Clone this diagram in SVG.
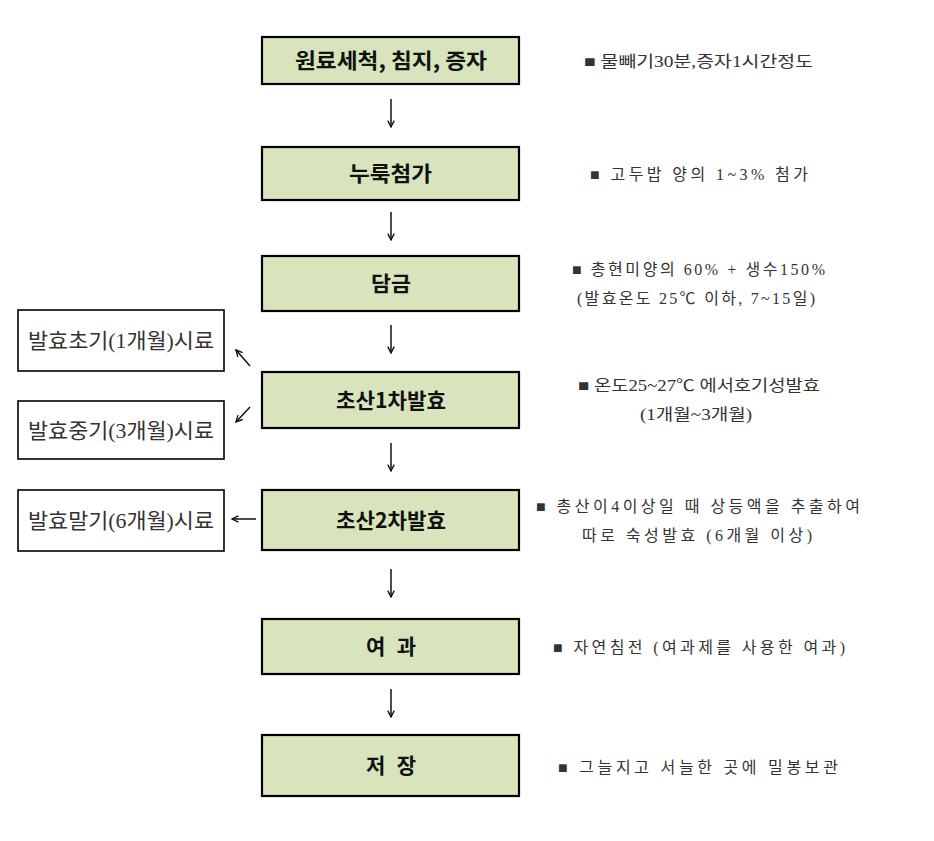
<svg xmlns="http://www.w3.org/2000/svg" width="934" height="841" viewBox="0 0 934 841">
<style>
.main{fill:#d8e4bc;stroke:#000;stroke-width:2.2}
.side{fill:#fff;stroke:#000;stroke-width:1.6}
.mt{font-family:"Noto Sans CJK KR","Liberation Sans",sans-serif;font-weight:bold;font-size:21px;fill:#111}
.st{font-family:"Liberation Serif","Noto Sans CJK KR",serif;font-size:21px;fill:#333}
.nt{font-family:"Liberation Serif","Noto Sans CJK KR",serif;font-size:16px;fill:#333}
.c{stroke:#111;stroke-width:1.5;fill:none}
</style>
<defs>
<marker id="ah" viewBox="0 0 10 10" refX="9" refY="5" markerWidth="8" markerHeight="8" orient="auto" markerUnits="userSpaceOnUse">
<path d="M1,1 L9,5 L1,9" fill="none" stroke="#111" stroke-width="1.7"/>
</marker>
</defs>
<rect width="934" height="841" fill="#fff"/>
<g id="n1"><rect class="main" x="262" y="37" width="257" height="47"/><text class="mt" x="295" y="68" textLength="192" lengthAdjust="spacingAndGlyphs">원료세척, 침지, 증자</text></g>
<g id="n2"><rect class="main" x="262" y="147" width="257" height="53"/><text class="mt" x="349" y="181" textLength="83" lengthAdjust="spacingAndGlyphs">누룩첨가</text></g>
<g id="n3"><rect class="main" x="262" y="256" width="257" height="55"/><text class="mt" x="371" y="291" textLength="40" lengthAdjust="spacingAndGlyphs">담금</text></g>
<g id="n4"><rect class="main" x="262" y="372" width="257" height="56"/><text class="mt" x="336" y="408" textLength="110" lengthAdjust="spacingAndGlyphs">초산1차발효</text></g>
<g id="n5"><rect class="main" x="262" y="490" width="257" height="60"/><text class="mt" x="336" y="528" textLength="110" lengthAdjust="spacingAndGlyphs">초산2차발효</text></g>
<g id="n6"><rect class="main" x="262" y="619" width="257" height="55"/><text class="mt" x="366" y="654" textLength="50" lengthAdjust="spacing">여 과</text></g>
<g id="n7"><rect class="main" x="262" y="735" width="257" height="61"/><text class="mt" x="366" y="773" textLength="50" lengthAdjust="spacing">저 장</text></g>
<g id="s1"><rect class="side" x="18" y="310" width="206" height="61"/><text class="st" x="28" y="348" textLength="186" lengthAdjust="spacingAndGlyphs">발효초기(1개월)시료</text></g>
<g id="s2"><rect class="side" x="18" y="401" width="206" height="58"/><text class="st" x="28" y="438" textLength="186" lengthAdjust="spacingAndGlyphs">발효중기(3개월)시료</text></g>
<g id="s3"><rect class="side" x="18" y="490" width="206" height="61"/><text class="st" x="28" y="528" textLength="186" lengthAdjust="spacingAndGlyphs">발효말기(6개월)시료</text></g>
<g id="notes">
<text class="nt" x="584" y="67" textLength="229" lengthAdjust="spacingAndGlyphs">■ 물빼기30분,증자1시간정도</text>
<text class="nt" x="590" y="180" textLength="218" lengthAdjust="spacing">■  고두밥 양의 1~3% 첨가</text>
<text class="nt" x="572" y="275" textLength="253" lengthAdjust="spacing">■ 총현미양의 60% + 생수150%</text>
<text class="nt" x="577" y="304" textLength="238" lengthAdjust="spacing">(발효온도 25℃ 이하, 7~15일)</text>
<text class="nt" x="578" y="391" textLength="242" lengthAdjust="spacingAndGlyphs">■ 온도25~27℃ 에서호기성발효</text>
<text class="nt" x="640" y="420" textLength="112" lengthAdjust="spacingAndGlyphs">(1개월~3개월)</text>
<text class="nt" x="536" y="512" textLength="324" lengthAdjust="spacing">■ 총산이4이상일 때 상등액을 추출하여</text>
<text class="nt" x="582" y="541" textLength="230" lengthAdjust="spacing">따로 숙성발효 (6개월 이상)</text>
<text class="nt" x="553" y="653" textLength="292" lengthAdjust="spacing">■ 자연침전 (여과제를 사용한 여과)</text>
<text class="nt" x="558" y="773" textLength="280" lengthAdjust="spacing">■ 그늘지고 서늘한 곳에 밀봉보관</text>
</g>
<g id="connectors">
<line class="c" x1="391" y1="99" x2="391" y2="127" marker-end="url(#ah)"/>
<line class="c" x1="391" y1="212" x2="391" y2="240" marker-end="url(#ah)"/>
<line class="c" x1="391" y1="325" x2="391" y2="353" marker-end="url(#ah)"/>
<line class="c" x1="391" y1="443" x2="391" y2="471" marker-end="url(#ah)"/>
<line class="c" x1="391" y1="569" x2="391" y2="597" marker-end="url(#ah)"/>
<line class="c" x1="391" y1="689" x2="391" y2="717" marker-end="url(#ah)"/>
<line class="c" x1="250" y1="366" x2="236" y2="350" marker-end="url(#ah)"/>
<line class="c" x1="250" y1="407" x2="236" y2="422" marker-end="url(#ah)"/>
<line class="c" x1="256" y1="519" x2="232" y2="519" marker-end="url(#ah)"/>
</g>
</svg>
